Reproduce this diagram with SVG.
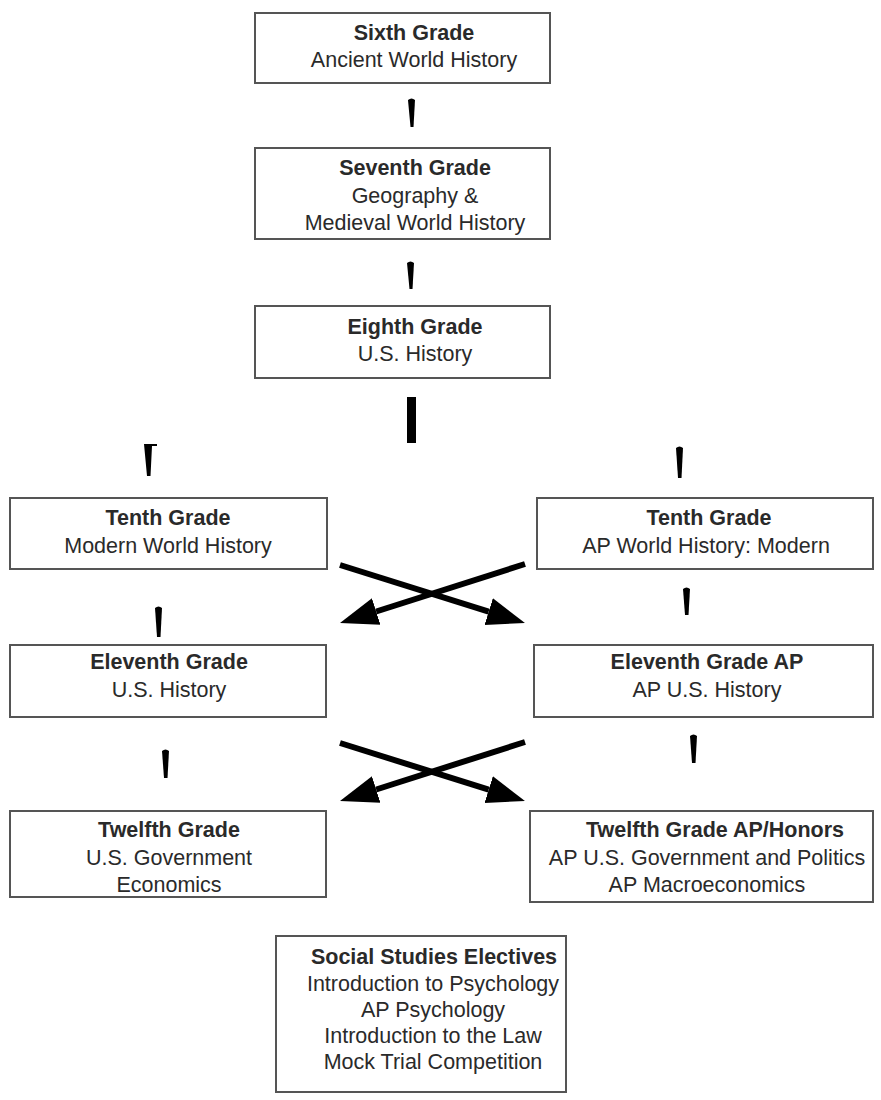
<svg xmlns="http://www.w3.org/2000/svg" width="881" height="1100" viewBox="0 0 881 1100">
<style>
.box{fill:#fff;stroke:#555;stroke-width:2}
.t{font-family:"Liberation Sans",Arial,sans-serif;font-size:21.5px;fill:#2a2a2a;text-anchor:middle}
.b{font-weight:bold}
.ln{stroke:#000;stroke-width:6;fill:none}
.tick{fill:#000}
</style>
<defs>
<marker id="ah" markerUnits="userSpaceOnUse" markerWidth="40" markerHeight="30" viewBox="0 0 40 30" refX="0" refY="15" orient="auto">
<path d="M0,1 L38,15 L0,29 z" fill="#000"/>
</marker>
</defs>
<rect width="881" height="1100" fill="#fff"/>
<g id="connectors">
<path class="tick" d="M408,100 Q411.5,97 415,100 L413.5,127 L410.5,127 Z"/>
<path class="tick" d="M407,263 Q410.5,260 414,263 L412.5,289 L409.5,289 Z"/>
<path class="tick" d="M407,397 L416,397 L416,443 L407,443 Z"/>
<path class="tick" d="M144,444 L157,444 L157,446 L152,446 L150.5,476 L147,476 Z"/>
<path class="tick" d="M676,448 Q679.5,445 683,448 L681.5,478 L678,478 Z"/>
<path class="tick" d="M155,608 Q158.5,605 162,608 L160.5,637 L157,637 Z"/>
<path class="tick" d="M683,589 Q686.5,586 690,589 L688.5,615 L685,615 Z"/>
<path class="tick" d="M162,751 Q165.5,748 169,751 L167.5,778 L164,778 Z"/>
<path class="tick" d="M690,736 Q693.5,733 697,736 L695.5,763 L692,763 Z"/>
<line class="ln" x1="340" y1="565" x2="488.7" y2="611.6" marker-end="url(#ah)"/>
<line class="ln" x1="525" y1="564" x2="376.2" y2="611.5" marker-end="url(#ah)"/>
<line class="ln" x1="340" y1="743" x2="488.7" y2="789.6" marker-end="url(#ah)"/>
<line class="ln" x1="525" y1="742" x2="376.2" y2="789.5" marker-end="url(#ah)"/>
</g>
<g id="sixth">
<rect class="box" x="255" y="13" width="295" height="70"/>
<text class="t b" x="414" y="40">Sixth Grade</text>
<text class="t" x="414" y="67">Ancient World History</text>
</g>
<g id="seventh">
<rect class="box" x="255" y="148" width="295" height="91"/>
<text class="t b" x="415" y="175">Seventh Grade</text>
<text class="t" x="415" y="203">Geography &amp;</text>
<text class="t" x="415" y="230">Medieval World History</text>
</g>
<g id="eighth">
<rect class="box" x="255" y="306" width="295" height="72"/>
<text class="t b" x="415" y="334">Eighth Grade</text>
<text class="t" x="415" y="361">U.S. History</text>
</g>
<g id="tenth-left">
<rect class="box" x="10" y="498" width="317" height="71"/>
<text class="t b" x="168" y="525">Tenth Grade</text>
<text class="t" x="168" y="553">Modern World History</text>
</g>
<g id="tenth-right">
<rect class="box" x="537" y="498" width="336" height="71"/>
<text class="t b" x="709" y="525">Tenth Grade</text>
<text class="t" x="706" y="553">AP World History: Modern</text>
</g>
<g id="eleventh-left">
<rect class="box" x="10" y="645" width="316" height="72"/>
<text class="t b" x="169" y="669">Eleventh Grade</text>
<text class="t" x="169" y="697">U.S. History</text>
</g>
<g id="eleventh-right">
<rect class="box" x="534" y="645" width="339" height="72"/>
<text class="t b" x="707" y="669">Eleventh Grade AP</text>
<text class="t" x="707" y="697">AP U.S. History</text>
</g>
<g id="twelfth-left">
<rect class="box" x="10" y="811" width="316" height="86"/>
<text class="t b" x="169" y="837">Twelfth Grade</text>
<text class="t" x="169" y="865">U.S. Government</text>
<text class="t" x="169" y="892">Economics</text>
</g>
<g id="twelfth-right">
<rect class="box" x="530" y="811" width="343" height="91"/>
<text class="t b" x="715" y="837">Twelfth Grade AP/Honors</text>
<text class="t" x="707" y="865">AP U.S. Government and Politics</text>
<text class="t" x="707" y="892">AP Macroeconomics</text>
</g>
<g id="electives">
<rect class="box" x="276" y="936" width="290" height="156"/>
<text class="t b" x="434" y="964">Social Studies Electives</text>
<text class="t" x="433" y="991">Introduction to Psychology</text>
<text class="t" x="433" y="1017">AP Psychology</text>
<text class="t" x="433" y="1043">Introduction to the Law</text>
<text class="t" x="433" y="1069">Mock Trial Competition</text>
</g>
</svg>
